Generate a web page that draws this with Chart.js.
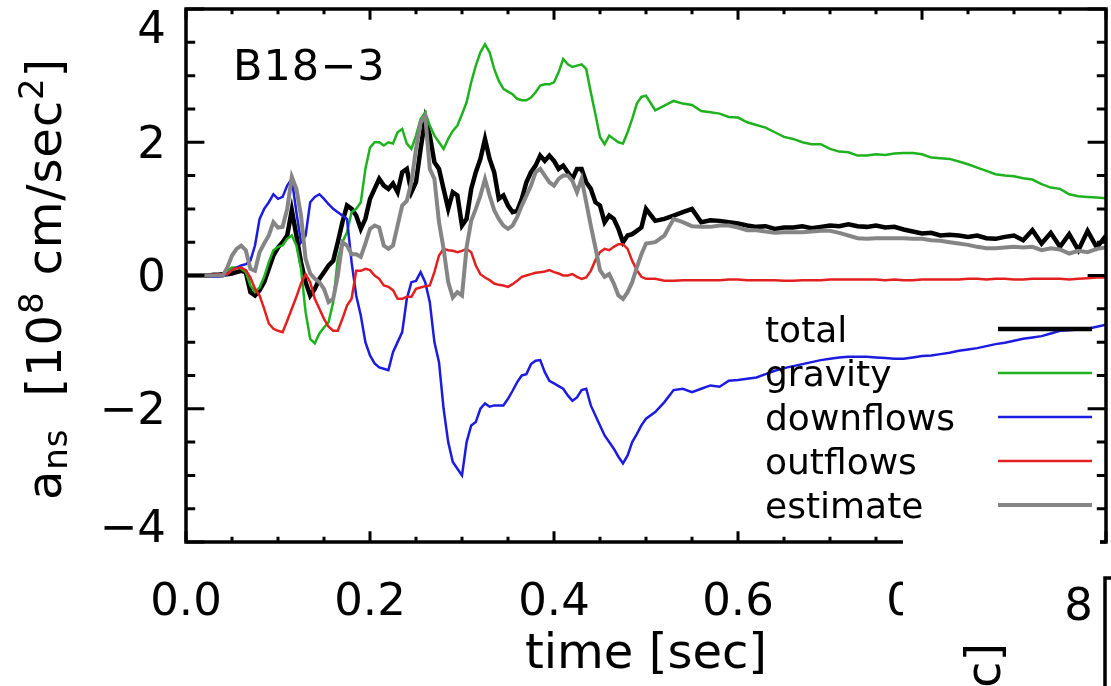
<!DOCTYPE html>
<html>
<head>
<meta charset="utf-8">
<script src="https://cdn.jsdelivr.net/npm/chart.js@4.4.1/dist/chart.umd.min.js"></script>
<style>
  html, body { margin: 0; padding: 0; background: #fff; }
  #wrap { width: 1111px; height: 686px; }
</style>
</head>
<body>
<div id="wrap"><canvas id="accel" width="1111" height="686"></canvas></div>
<script>
// time samples [sec]
const time = [
  0, 0.005, 0.01, 0.015, 0.02, 0.025, 0.03, 0.035, 0.04, 0.045,
  0.05, 0.055, 0.06, 0.065, 0.07, 0.075, 0.08, 0.085, 0.09, 0.095,
  0.1, 0.105, 0.11, 0.115, 0.12, 0.125, 0.13, 0.135, 0.14, 0.145,
  0.15, 0.155, 0.16, 0.165, 0.17, 0.175, 0.18, 0.185, 0.19, 0.195,
  0.2, 0.205, 0.21, 0.215, 0.22, 0.225, 0.23, 0.235, 0.24, 0.245,
  0.25, 0.255, 0.26, 0.265, 0.27, 0.275, 0.28, 0.285, 0.29, 0.295,
  0.3, 0.305, 0.31, 0.315, 0.32, 0.325, 0.33, 0.335, 0.34, 0.345,
  0.35, 0.355, 0.36, 0.365, 0.37, 0.375, 0.38, 0.385, 0.39, 0.395,
  0.4, 0.405, 0.41, 0.415, 0.42, 0.425, 0.43, 0.435, 0.44, 0.445,
  0.45, 0.455, 0.46, 0.465, 0.47, 0.475, 0.48, 0.485, 0.49, 0.495,
  0.5, 0.51, 0.52, 0.53, 0.54, 0.55, 0.56, 0.57, 0.58, 0.59,
  0.6, 0.61, 0.62, 0.63, 0.64, 0.65, 0.66, 0.67, 0.68, 0.69,
  0.7, 0.71, 0.72, 0.73, 0.74, 0.75, 0.76, 0.77, 0.78, 0.79,
  0.8, 0.81, 0.82, 0.83, 0.84, 0.85, 0.86, 0.87, 0.88, 0.89,
  0.9, 0.91, 0.92, 0.93, 0.94, 0.95, 0.96, 0.97, 0.98, 0.99, 1.0
];

// a_ns in 1e8 cm/s^2
const total = [
  0, 0, 0, 0, 0, 0, 0.01, 0.01, 0.02, 0.02,
  0.03, 0.05, 0.07, 0.05, -0.25, -0.3, -0.22, -0.1, 0.1, 0.3,
  0.42, 0.5, 0.6, 0.98, 0.6, 0.2, -0.1, -0.3, -0.2, -0.05,
  0.05, 0.15, 0.22, 0.5, 0.8, 1.05, 1.0, 0.9, 0.7, 0.85,
  1.15, 1.3, 1.45, 1.35, 1.3, 1.38, 1.25, 1.55, 1.6, 1.25,
  1.4, 1.9, 2.35, 2.1, 1.7, 1.6, 1.3, 1.0, 1.25, 1.2,
  0.75, 0.85, 1.3, 1.55, 1.75, 2.05, 1.75, 1.55, 1.15, 1.2,
  1.05, 0.95, 0.97, 1.15, 1.4, 1.55, 1.65, 1.8, 1.72, 1.8,
  1.72, 1.6, 1.65, 1.55, 1.45, 1.6, 1.6, 1.4, 1.3, 1.1,
  1.05, 0.8, 0.9, 0.85, 0.7, 0.5, 0.6, 0.62, 0.67, 0.72,
  1.0, 0.82, 0.85, 0.9, 0.95, 1.0, 0.8, 0.83, 0.82, 0.8,
  0.78, 0.75, 0.73, 0.74, 0.7, 0.72, 0.72, 0.74, 0.71, 0.73,
  0.75, 0.74, 0.77, 0.74, 0.73, 0.75, 0.72, 0.73, 0.69, 0.66,
  0.63, 0.64, 0.6, 0.61, 0.6, 0.58, 0.6, 0.56, 0.55, 0.58,
  0.6, 0.53, 0.68, 0.48, 0.64, 0.43, 0.62, 0.38, 0.67, 0.42, 0.6
];

const gravity = [
  0, 0, 0, 0, 0, 0, 0, 0, 0.02, 0.07,
  0.12, 0.12, 0.1, 0.05, -0.15, -0.25, -0.18, -0.02, 0.2, 0.38,
  0.43, 0.45, 0.55, 0.6, 0.45, 0.1, -0.55, -0.95, -1.02, -0.87,
  -0.78, -0.7, -0.4, 0.25, 0.5, 0.65, 0.95, 1.0, 1.1, 1.6,
  1.92, 2.0, 2.0, 1.95, 2.0, 1.98, 2.15, 2.2, 1.98, 1.9,
  2.1, 2.35, 2.45, 2.25, 2.1, 2.0, 1.9, 2.05, 2.17, 2.25,
  2.42, 2.6, 2.9, 3.15, 3.35, 3.47, 3.35, 3.1, 2.92, 2.8,
  2.76, 2.72, 2.65, 2.63, 2.63, 2.67, 2.75, 2.85, 2.87, 2.87,
  2.9, 3.05, 3.25, 3.17, 3.13, 3.15, 3.17, 3.1, 2.75, 2.42,
  2.08, 1.97, 2.1, 2.05, 2.0, 1.98, 2.15, 2.35, 2.58, 2.68,
  2.7, 2.48, 2.55, 2.62, 2.58, 2.56, 2.47, 2.45, 2.43, 2.38,
  2.37, 2.3, 2.26, 2.22, 2.15, 2.08, 2.05, 2.0, 1.97, 1.97,
  1.9, 1.86, 1.85, 1.8, 1.8, 1.82, 1.81, 1.83, 1.84, 1.84,
  1.82, 1.77, 1.76, 1.75, 1.71, 1.67, 1.62, 1.57, 1.52, 1.5,
  1.49, 1.46, 1.44, 1.37, 1.32, 1.3, 1.22, 1.19, 1.18, 1.17, 1.16
];

const downflows = [
  0, 0, 0, 0, 0, -0.01, -0.02, -0.02, -0.01, 0.02,
  0.08, 0.12, 0.15, 0.17, 0.22, 0.45, 0.85, 1.0, 1.1, 1.22,
  1.15, 1.18, 1.35, 1.45, 0.95, 0.5, 0.6, 1.1, 1.18, 1.22,
  1.15, 1.07, 1.0, 0.95, 0.9, 0.85, 0.2, -0.3, -0.6, -1.0,
  -1.2, -1.32, -1.38, -1.4, -1.42, -1.15, -1.0, -0.85, -0.35, -0.1,
  -0.08, 0.05, -0.1, -0.4, -1.0, -1.3, -2.0, -2.5, -2.8, -2.9,
  -3.0, -2.5, -2.25, -2.2, -2.0, -1.92, -1.97, -1.95, -1.95, -1.95,
  -1.85, -1.73, -1.6, -1.5, -1.48, -1.33, -1.28, -1.27, -1.45, -1.58,
  -1.62, -1.66, -1.7, -1.8, -1.88, -1.83, -1.72, -1.7, -1.95, -2.1,
  -2.25, -2.4, -2.5, -2.6, -2.72, -2.82, -2.7, -2.5, -2.38, -2.25,
  -2.15, -2.05, -1.9, -1.72, -1.7, -1.75, -1.7, -1.65, -1.67, -1.58,
  -1.57, -1.55, -1.53, -1.48, -1.43, -1.39, -1.36, -1.33, -1.3, -1.27,
  -1.25, -1.23, -1.22, -1.22, -1.22, -1.23, -1.24, -1.25, -1.25, -1.23,
  -1.21, -1.2, -1.18, -1.16, -1.13, -1.11, -1.09, -1.06, -1.03, -1.01,
  -0.98, -0.95, -0.93, -0.91, -0.87, -0.83, -0.82, -0.81, -0.8, -0.77, -0.74
];

const outflows = [
  0, 0, 0, 0, 0, 0.01, 0.01, 0.02, 0.02, 0.02,
  0.08, 0.11, 0.12, 0.08, -0.03, -0.2, -0.3, -0.5, -0.72, -0.8,
  -0.83, -0.85, -0.68, -0.5, -0.32, -0.12, 0.02, -0.1, -0.35, -0.5,
  -0.65, -0.77, -0.83, -0.83, -0.65, -0.45, -0.35, 0.07, 0.07, 0.1,
  0.08, 0.0, -0.05, -0.15, -0.17, -0.22, -0.35, -0.35, -0.32, -0.32,
  -0.2, -0.18, -0.16, -0.15, 0.05, 0.3, 0.4, 0.38, 0.37, 0.35,
  0.37, 0.4, 0.35, 0.15, 0.02, -0.03, -0.07, -0.12, -0.14, -0.15,
  -0.17, -0.13, -0.08, -0.02, 0.0, 0.02, 0.04, 0.05, 0.06, 0.08,
  0.05, 0.03, 0.0, 0.0, 0.02, -0.02, -0.05, -0.03, 0.07, 0.23,
  0.35, 0.4, 0.38, 0.43, 0.47, 0.47, 0.4, 0.22, 0.08, -0.02,
  -0.05, -0.05, -0.08, -0.08, -0.07, -0.07, -0.07, -0.07, -0.07, -0.06,
  -0.06, -0.07, -0.07, -0.07, -0.07, -0.08, -0.08, -0.07, -0.07, -0.07,
  -0.06, -0.06, -0.06, -0.06, -0.06, -0.06, -0.07, -0.06, -0.07, -0.07,
  -0.06, -0.06, -0.06, -0.06, -0.06, -0.05, -0.05, -0.06, -0.05, -0.05,
  -0.06, -0.06, -0.05, -0.05, -0.05, -0.05, -0.06, -0.05, -0.04, -0.03, -0.03
];

const estimate = [
  0, 0, 0, 0, 0, 0, 0, 0, 0, 0.12,
  0.3, 0.4, 0.45, 0.38, 0.1, 0.07, 0.35, 0.48, 0.6, 0.8,
  0.72, 0.73, 1.0, 1.48, 1.3, 0.9, 0.25, 0.03, -0.05, -0.1,
  -0.2, -0.4, -0.35, 0.0, 0.5, 0.45, 0.32, 0.32, 0.28, 0.48,
  0.7, 0.75, 0.72, 0.45, 0.4, 0.45, 0.75, 1.05, 1.12, 1.4,
  1.9, 2.3, 2.4, 1.6, 1.45, 0.8, 0.4, -0.1, -0.33, -0.25,
  -0.3, 0.42, 0.82, 1.0, 1.2, 1.45, 1.2, 0.98, 0.85, 0.75,
  0.7, 0.75, 0.88, 1.05, 1.2, 1.35, 1.55, 1.6, 1.5, 1.4,
  1.35, 1.45, 1.5, 1.5, 1.42, 1.25, 1.45, 1.1, 0.75, 0.42,
  0.08, -0.02, 0.02, -0.12, -0.3, -0.35, -0.25, -0.1, 0.12, 0.32,
  0.48, 0.5, 0.6, 0.85, 0.8, 0.74, 0.73, 0.73, 0.75, 0.75,
  0.72, 0.68, 0.68, 0.66, 0.64, 0.65, 0.65, 0.65, 0.66, 0.67,
  0.67, 0.64, 0.6, 0.56, 0.55, 0.56, 0.56, 0.56, 0.56, 0.55,
  0.55, 0.53, 0.52, 0.5, 0.48, 0.46, 0.43, 0.41, 0.41, 0.42,
  0.43, 0.42, 0.43, 0.38, 0.41, 0.39, 0.33, 0.37, 0.35, 0.4, 0.42
];

const xTicks = [0, 0.2, 0.4, 0.6, 0.8, 1.0];
const yTicks = [-4, -2, 0, 2, 4];
const runLabel = 'B18\u22123';
const yTitleParts = [
  { t: 'a', k: 'main' }, { t: 'ns', k: 'sub' }, { t: '  [10', k: 'main' },
  { t: '8', k: 'sup' }, { t: ' cm/sec', k: 'main' }, { t: '2', k: 'sup' }, { t: ']', k: 'main' }
];

const FONT = "'DejaVu Sans', sans-serif";

function series(label, values, color, width) {
  return {
    label,
    data: time.map((t, i) => ({ x: t, y: values[i] })),
    borderColor: color,
    borderWidth: width,
    pointRadius: 0,
    tension: 0,
    fill: false
  };
}

// all tick positions, major plus minor ones in between
function tickList(major, sub) {
  const out = [];
  major.forEach((v, i) => {
    out.push({ v, major: true });
    if (i < major.length - 1) {
      const step = (major[i + 1] - v) / sub;
      for (let k = 1; k < sub; k++) out.push({ v: v + k * step, major: false });
    }
  });
  return out;
}

const fmtY = v => (v < 0 ? '\u2212' + Math.abs(v) : String(v));

const whiteBg = {
  id: 'whiteBg',
  beforeDraw(chart) {
    const ctx = chart.ctx;
    ctx.save();
    ctx.fillStyle = '#fff';
    ctx.fillRect(0, 0, chart.width, chart.height);
    ctx.restore();
  }
};

// IDL style box with inward ticks on all four sides, y labels kept inside the box height
const idlFrame = {
  id: 'idlFrame',
  afterDraw(chart) {
    const { ctx, chartArea: a, scales: { x, y } } = chart;
    const w = a.right - a.left, h = a.bottom - a.top;
    ctx.save();
    ctx.strokeStyle = '#000';
    ctx.lineWidth = 3.5;
    ctx.strokeRect(a.left, a.top, w, h);
    ctx.lineWidth = 3;
    ctx.beginPath();
    tickList(xTicks, 4).forEach(tk => {
      const px = x.getPixelForValue(tk.v);
      const len = tk.major ? 0.02 * h : 0.01 * h;
      ctx.moveTo(px, a.bottom); ctx.lineTo(px, a.bottom - len);
      ctx.moveTo(px, a.top); ctx.lineTo(px, a.top + len);
    });
    tickList(yTicks, 4).forEach(tk => {
      const py = y.getPixelForValue(tk.v);
      const len = tk.major ? 0.02 * w : 0.01 * w;
      ctx.moveTo(a.left, py); ctx.lineTo(a.left + len, py);
      ctx.moveTo(a.right, py); ctx.lineTo(a.right - len, py);
    });
    ctx.stroke();

    ctx.fillStyle = '#000';
    ctx.font = `45px ${FONT}`;
    ctx.textAlign = 'right';
    ctx.textBaseline = 'middle';
    yTicks.forEach(v => {
      const py = Math.min(Math.max(y.getPixelForValue(v) + 4, a.top + 22), a.bottom - 12);
      ctx.fillText(fmtY(v), a.left - 20, py);
    });
    ctx.restore();
  }
};

// the figure was cut from a multi-panel page: blank corner with bits of the next panel
const panelCut = {
  id: 'panelCut',
  afterDraw(chart) {
    const ctx = chart.ctx;
    ctx.save();
    ctx.fillStyle = '#fff';
    ctx.fillRect(903, 531, 197, 155);
    ctx.fillRect(1100, 548, 11, 138);
    ctx.fillStyle = '#000';
    ctx.font = `45px ${FONT}`;
    ctx.textAlign = 'right';
    ctx.fillText('8', 1093, 620);
    ctx.strokeStyle = '#000';
    ctx.lineWidth = 3.5;
    ctx.beginPath();
    ctx.moveTo(1111, 578); ctx.lineTo(1105, 578); ctx.lineTo(1105, 686);
    ctx.stroke();
    ctx.translate(1000, 688);
    ctx.rotate(-Math.PI / 2);
    ctx.textAlign = 'left';
    ctx.font = `48px ${FONT}`;
    ctx.fillText('c]', 0, 0);
    ctx.restore();
  }
};

const legendBox = {
  id: 'legendBox',
  afterDraw(chart) {
    const ctx = chart.ctx;
    ctx.save();
    ctx.font = `36px ${FONT}`;
    ctx.fillStyle = '#000';
    ctx.textBaseline = 'alphabetic';
    chart.data.datasets.forEach((ds, i) => {
      const ly = 329 + i * 44;
      ctx.fillText(ds.label, 765, ly + 13);
      ctx.strokeStyle = ds.borderColor;
      ctx.lineWidth = ds.borderWidth;
      ctx.beginPath();
      ctx.moveTo(998, ly); ctx.lineTo(1092, ly);
      ctx.stroke();
    });
    ctx.font = `43px ${FONT}`;
    ctx.letterSpacing = '1px';
    ctx.fillText(runLabel, 233, 80);
    ctx.restore();
  }
};

const yTitle = {
  id: 'yTitle',
  afterDraw(chart) {
    const ctx = chart.ctx;
    const fonts = { main: `48px ${FONT}`, sub: `34px ${FONT}`, sup: `34px ${FONT}` };
    const shift = { main: 0, sub: 6, sup: -18 };
    ctx.save();
    ctx.fillStyle = '#000';
    ctx.textBaseline = 'alphabetic';
    let natural = 0, chars = 0;
    yTitleParts.forEach(p => {
      ctx.font = fonts[p.k];
      natural += ctx.measureText(p.t).width;
      chars += p.t.length;
    });
    const sp = Math.max(0, (442 - natural) / chars);
    ctx.translate(61, 500);
    ctx.rotate(-Math.PI / 2);
    let pos = 0;
    yTitleParts.forEach(p => {
      ctx.font = fonts[p.k];
      ctx.letterSpacing = '0px';
      const wNat = ctx.measureText(p.t).width;
      ctx.letterSpacing = sp + 'px';
      ctx.fillText(p.t, pos, shift[p.k]);
      pos += wNat + sp * p.t.length;
    });
    ctx.restore();
  }
};

new Chart(document.getElementById('accel'), {
  type: 'line',
  data: {
    datasets: [
      series('total', total, '#000000', 4.5),
      series('gravity', gravity, '#1fb21f', 2.5),
      series('downflows', downflows, '#1c1ce0', 2.5),
      series('outflows', outflows, '#e41f1f', 2.5),
      series('estimate', estimate, '#858585', 4)
    ].map((ds, i) => Object.assign(ds, { order: 5 - i }))
  },
  options: {
    responsive: false,
    devicePixelRatio: 1,
    animation: false,
    events: [],
    layout: { padding: { top: 9, right: 5, left: 0, bottom: 0 } },
    plugins: { legend: { display: false }, tooltip: { enabled: false } },
    scales: {
      x: {
        type: 'linear',
        min: 0,
        max: 1,
        afterBuildTicks(s) { s.ticks = xTicks.map(v => ({ value: v })); },
        afterFit(s) { s.height = 144; s.paddingLeft = 0; s.paddingRight = 0; },
        grid: { display: false, drawTicks: false },
        border: { display: false },
        ticks: {
          color: '#000',
          font: { family: FONT, size: 45 },
          padding: 34,
          maxRotation: 0,
          autoSkip: false,
          callback: v => v.toFixed(1)
        },
        title: {
          display: true,
          text: 'time [sec]',
          color: '#000',
          font: { family: FONT, size: 48 },
          padding: { top: 0, bottom: 2 }
        }
      },
      y: {
        type: 'linear',
        min: -4,
        max: 4,
        afterBuildTicks(s) { s.ticks = yTicks.map(v => ({ value: v })); },
        afterFit(s) { s.width = 186; s.paddingTop = 0; s.paddingBottom = 0; },
        grid: { display: false, drawTicks: false },
        border: { display: false },
        ticks: { display: false }
      }
    }
  },
  plugins: [whiteBg, idlFrame, panelCut, legendBox, yTitle]
});
</script>
</body>
</html>
